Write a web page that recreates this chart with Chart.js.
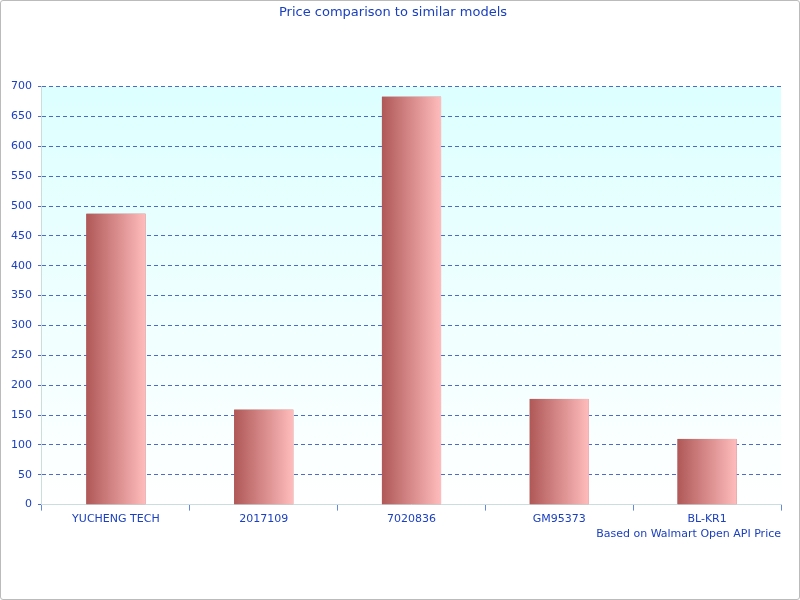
<!DOCTYPE html>
<html>
<head>
<meta charset="utf-8">
<script src="https://cdn.jsdelivr.net/npm/chart.js@4"></script>
<style>
  body { margin: 0; background: #fff; }
  #wrap { position: absolute; left: 0; top: 0; width: 798px; height: 598px; border: 1px solid #bbb; border-radius: 3px; }
</style>
</head>
<body>
<div id="wrap"><canvas id="c" width="798" height="598"></canvas></div>
<script>
const models = ['YUCHENG TECH', '2017109', '7020836', 'GM95373', 'BL-KR1'];
const prices = [487, 159, 683, 177, 110];

const blue = '#1a3fc0';
Chart.defaults.font.family = 'DejaVu Sans';
Chart.defaults.font.size = 11;
Chart.defaults.color = blue;

// light cyan to white behind the plot, horizontal gradient over each bar
const paint = {
  id: 'paint',
  beforeDraw(chart) {
    const a = chart.chartArea, ctx = chart.ctx;
    const g = ctx.createLinearGradient(0, a.top, 0, a.bottom);
    g.addColorStop(0, '#ddffff');
    g.addColorStop(1, '#ffffff');
    ctx.save();
    ctx.fillStyle = g;
    ctx.fillRect(a.left, a.top, a.right - a.left, a.bottom - a.top);
    ctx.restore();
  },
  afterDatasetsDraw(chart) {
    const ctx = chart.ctx;
    ctx.save();
    chart.getDatasetMeta(0).data.forEach(bar => {
      const left = bar.x - bar.width / 2;
      const g = ctx.createLinearGradient(left, 0, left + bar.width, 0);
      g.addColorStop(0, '#b05858');
      g.addColorStop(1, '#ffbcbc');
      ctx.fillStyle = g;
      ctx.fillRect(left, bar.y, bar.width, bar.base - bar.y);
    });
    ctx.restore();
  }
};

new Chart(document.getElementById('c'), {
  type: 'bar',
  data: {
    labels: models,
    datasets: [{ data: prices, categoryPercentage: 0.8, barPercentage: 0.5, borderWidth: 0, backgroundColor: '#b05858' }]
  },
  options: {
    responsive: false,
    animation: false,
    layout: { padding: { left: 4, right: 18, top: 4, bottom: 58 } },
    plugins: {
      legend: { display: false },
      tooltip: { enabled: false },
      title: { display: true, text: 'Price comparison to similar models', color: blue,
               font: { size: 13, weight: 'normal' }, padding: { top: 0, bottom: 66 } },
      subtitle: { display: true, position: 'bottom', align: 'end', text: 'Based on Walmart Open API Price',
                  color: blue, font: { size: 11 }, padding: { top: 0, bottom: 0 } }
    },
    scales: {
      x: {
        grid: { drawOnChartArea: false, color: '#6688dd', tickLength: 6 },
        border: { color: '#ccdddd' },
        ticks: { color: blue, padding: 2 }
      },
      y: {
        min: 0, max: 700,
        ticks: { stepSize: 50, color: blue, padding: 6 },
        grid: { color: '#2244bb', tickLength: 4, lineWidth: 0.8 },
        border: { dash: [4, 3], color: '#ccdddd' }
      }
    }
  },
  plugins: [paint]
});
</script>
</body>
</html>
